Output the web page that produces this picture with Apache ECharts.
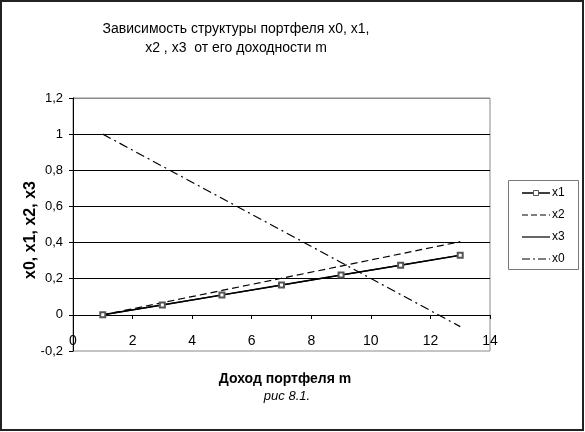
<!DOCTYPE html>
<html>
<head>
<meta charset="utf-8">
<script src="https://cdn.jsdelivr.net/npm/echarts@6/dist/echarts.min.js"></script>
<style>
html,body{margin:0;padding:0;background:#fff;}
#chart{width:585px;height:432px;}
</style>
</head>
<body>
<div id="chart"></div>
<script>
// Data
var mValues = [1, 3, 5, 7, 9, 11, 13];
var x1Values = [0, 0.055, 0.11, 0.165, 0.22, 0.275, 0.33];
var x2Values = [0, 0.0675, 0.135, 0.2025, 0.27, 0.3375, 0.405];
var x3Values = [0, 0.055, 0.11, 0.165, 0.22, 0.275, 0.33];
var x0Values = [1, 0.8225, 0.645, 0.4675, 0.29, 0.1125, -0.065];
var seriesNames = ['x1', 'x2', 'x3', 'x0'];
var titleLines = ['Зависимость структуры портфеля x0, x1,', 'x2 , x3  от его доходности m'];
var yAxisTitle = 'x0, x1, x2, x3';
var xAxisTitle = 'Доход портфеля m';
var caption = 'рис 8.1.';

function pairs(xs, ys) { return xs.map(function (x, i) { return [x, ys[i]]; }); }

var FONT = '"Liberation Sans", Arial, sans-serif';
var dashes = [null, [6, 3], null, [8, 3, 2, 3]];

// legend drawn as graphic elements
var legendGraphics = [
  { type: 'rect', shape: { x: 508.5, y: 180.5, width: 70, height: 89 }, style: { fill: '#fff', stroke: '#777', lineWidth: 1 }, silent: true }
];
var legendY = [193, 215, 237, 259];
seriesNames.forEach(function (name, i) {
  legendGraphics.push({ type: 'line', shape: { x1: 522, y1: legendY[i], x2: 550, y2: legendY[i] },
    style: { stroke: '#000', lineWidth: i === 0 ? 1.5 : 1.2, lineDash: dashes[i] }, silent: true });
  if (i === 0) {
    legendGraphics.push({ type: 'rect', shape: { x: 533.5, y: legendY[i] - 2.5, width: 5, height: 5 },
      style: { fill: '#fff', stroke: '#555', lineWidth: 1 }, silent: true });
  }
  legendGraphics.push({ type: 'text', x: 552, y: legendY[i], style: { text: name, font: '12px ' + FONT, fill: '#000', textVerticalAlign: 'middle' } });
});

var chart = echarts.init(document.getElementById('chart'));
chart.setOption({
  animation: false,
  backgroundColor: '#fff',
  textStyle: { fontFamily: FONT },
  grid: { left: 73, right: 95, top: 98, bottom: 81, show: true, borderColor: '#8a8a8a', borderWidth: 1 },
  xAxis: {
    type: 'value', min: 0, max: 14, interval: 2, offset: -36,
    axisLine: { show: true, onZero: false, lineStyle: { color: '#000', width: 1 } },
    axisTick: { show: true, inside: false, length: 4, lineStyle: { color: '#000' } },
    axisLabel: { color: '#000', fontSize: 14, margin: 19, fontFamily: FONT },
    splitLine: { show: false }
  },
  yAxis: {
    type: 'value', min: -0.2, max: 1.2, interval: 0.2,
    axisLine: { show: true, onZero: false, lineStyle: { color: '#000', width: 1 } },
    axisTick: { show: true, length: 4, lineStyle: { color: '#000' } },
    axisLabel: {
      color: '#000', fontSize: 13, margin: 10, fontFamily: FONT,
      formatter: function (v) { return String(Math.round(v * 10) / 10).replace('.', ','); }
    },
    splitLine: { show: true, lineStyle: { color: ['transparent', '#000', '#000', '#000', '#000', '#000', '#000', '#8a8a8a'], width: 1 } }
  },
  series: [
    { name: seriesNames[0], type: 'line', data: pairs(mValues, x1Values), symbol: 'emptyRect', symbolSize: 5,
      lineStyle: { color: '#000', width: 1.5, type: 'solid' }, itemStyle: { color: '#555', borderColor: '#555' }, z: 4 },
    { name: seriesNames[1], type: 'line', data: pairs(mValues, x2Values), symbol: 'none',
      lineStyle: { color: '#000', width: 1.2, type: [7, 4] } },
    { name: seriesNames[2], type: 'line', data: pairs(mValues, x3Values), symbol: 'none',
      lineStyle: { color: '#000', width: 1.2, type: 'solid' } },
    { name: seriesNames[3], type: 'line', data: pairs(mValues, x0Values), symbol: 'none',
      lineStyle: { color: '#000', width: 1.2, type: [9, 4, 2, 4] } }
  ],
  graphic: [
    { type: 'rect', shape: { x: 1, y: 1, width: 582, height: 429 }, style: { fill: 'none', stroke: '#222', lineWidth: 2 }, silent: true },
    { type: 'text', x: 236, y: 29, style: { text: titleLines[0], font: '14px ' + FONT, fill: '#000', textAlign: 'center', textVerticalAlign: 'middle' } },
    { type: 'text', x: 236, y: 48, style: { text: titleLines[1], font: '14px ' + FONT, fill: '#000', textAlign: 'center', textVerticalAlign: 'middle' } },
    { type: 'text', x: 31, y: 230, rotation: Math.PI / 2, style: { text: yAxisTitle, font: 'bold 16px ' + FONT, fill: '#000', textAlign: 'center', textVerticalAlign: 'middle' } },
    { type: 'text', x: 285, y: 379, style: { text: xAxisTitle, font: 'bold 14px ' + FONT, fill: '#000', textAlign: 'center', textVerticalAlign: 'middle' } },
    { type: 'text', x: 287, y: 396, style: { text: caption, font: 'italic 13px ' + FONT, fill: '#000', textAlign: 'center', textVerticalAlign: 'middle' } }
  ].concat(legendGraphics)
});
</script>
</body>
</html>
